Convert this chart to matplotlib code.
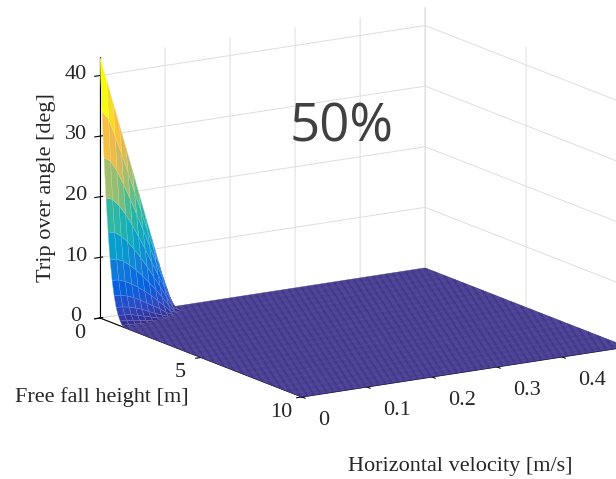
import numpy as np
import matplotlib
matplotlib.use("Agg")
import matplotlib.pyplot as plt
from matplotlib.colors import LinearSegmentedColormap
from mpl_toolkits.mplot3d import proj3d

# Griglia dei dati
height = np.round(np.arange(0, 10.01, 0.1), 2)        # Free fall height [m]
velocity = np.round(np.arange(0, 0.501, 0.01), 3)     # Horizontal velocity [m/s]

# Angolo di ribaltamento (angolo h=0..1.2, v=0..0.11); altrove 0
peak_height = height[:13]
peak_velocity = velocity[:12]
peak_angle = np.array([
    [43.0, 39.1, 35.2, 31.3, 27.4, 23.5, 19.5, 15.6, 11.7, 7.8, 3.9, 0.0],
    [34.2, 32.8, 29.9, 26.8, 23.5, 20.1, 16.8, 13.4, 10.0, 6.6, 3.3, 0.0],
    [26.7, 26.0, 24.2, 21.8, 19.3, 16.6, 13.8, 11.0, 8.1, 5.3, 2.4, 0.0],
    [20.2, 19.8, 18.6, 17.0, 15.1, 13.0, 10.8, 8.5, 6.2, 3.9, 1.5, 0.0],
    [14.7, 14.5, 13.7, 12.6, 11.2, 9.7, 8.0, 6.2, 4.4, 2.5, 0.6, 0.0],
    [10.3, 10.2, 9.7, 8.9, 7.9, 6.8, 5.5, 4.2, 2.8, 1.3, 0.0, 0.0],
    [7.0, 6.9, 6.5, 5.9, 5.2, 4.4, 3.5, 2.5, 1.5, 0.4, 0.0, 0.0],
    [4.6, 4.5, 4.2, 3.8, 3.2, 2.6, 1.9, 1.3, 0.5, 0.0, 0.0, 0.0],
    [2.8, 2.7, 2.5, 2.2, 1.8, 1.3, 0.8, 0.4, 0.0, 0.0, 0.0, 0.0],
    [1.6, 1.5, 1.4, 1.1, 0.8, 0.5, 0.2, 0.0, 0.0, 0.0, 0.0, 0.0],
    [0.8, 0.7, 0.6, 0.4, 0.2, 0.0, 0.0, 0.0, 0.0, 0.0, 0.0, 0.0],
    [0.2, 0.2, 0.1, 0.0, 0.0, 0.0, 0.0, 0.0, 0.0, 0.0, 0.0, 0.0],
    [0.0, 0.0, 0.0, 0.0, 0.0, 0.0, 0.0, 0.0, 0.0, 0.0, 0.0, 0.0],
])

z_ticks = [0, 10, 20, 30, 40]
height_ticks = [0, 5, 10]
velocity_ticks = [0, 0.1, 0.2, 0.3, 0.4, 0.5]
velocity_tick_labels = ['0', '0.1', '0.2', '0.3', '0.4', '0.5']

# Mappa di colori tipo parula
parula = LinearSegmentedColormap.from_list('parula', [
    (0.2081, 0.1663, 0.5292), (0.1707, 0.2919, 0.7792), (0.0117, 0.3875, 0.8820),
    (0.0723, 0.4887, 0.8467), (0.0265, 0.6137, 0.8135), (0.0843, 0.6928, 0.7062),
    (0.2586, 0.7317, 0.5954), (0.5300, 0.7491, 0.4661), (0.7525, 0.7384, 0.3768),
    (0.9139, 0.7258, 0.3063), (0.9990, 0.7653, 0.2164), (0.9626, 0.8705, 0.1309),
    (0.9763, 0.9831, 0.0538)])

W, H = 616, 479
fig = plt.figure(figsize=(W / 100, H / 100), dpi=100)
ax = fig.add_subplot(111, projection='3d', proj_type='ortho')
ax.set_box_aspect((380, 384, 269))
ax.view_init(elev=14.2, azim=-32.1)

V, Hh = np.meshgrid(velocity, height)
Z = np.zeros_like(V)
Z[:len(peak_height), :len(peak_velocity)] = peak_angle
zmax = Z.max()

fc = parula(Z / zmax)
surf = ax.plot_surface(Hh, V, Z, facecolors=fc, shade=False, rstride=1, cstride=1,
                       linewidth=0.3, antialiased=True)
# bordi piu' chiari delle facce (piu' visibili sul picco che sul piano)
zf = Z[:-1, :-1].ravel()
face = parula(zf / zmax)
mix = np.where(zf > 0, 0.3, 0.12)[:, None]
edge = face.copy()
edge[:, :3] = face[:, :3] * (1 - mix) + mix
surf.set_edgecolors(edge)

ax.set_xlim(0, 10)
ax.set_ylim(0, 0.5)
ax.set_zlim(0, zmax)
ax.set_xticks(height_ticks)
ax.set_yticks(velocity_ticks)
ax.set_yticklabels(velocity_tick_labels)
ax.set_zticks(z_ticks)
ax.zaxis.set_ticks_position('lower')

# (asse, pad, allineamento verticale delle etichette)
for axis, pad, va in ((ax.xaxis, 6, 'baseline'),
                      (ax.yaxis, 10, 'baseline'),
                      (ax.zaxis, 2, 'center')):
    axis.set_pane_color((1, 1, 1, 0))
    axis.pane.set_edgecolor((1, 1, 1, 0))
    axis._axinfo['grid'].update(color=(0.87, 0.87, 0.87), linewidth=0.7)
    axis.line.set_color('black')
    axis.line.set_linewidth(0.8)
    axis.set_tick_params(pad=pad)
    for lbl in axis.get_ticklabels():
        lbl.set_fontfamily('Liberation Serif')
        lbl.set_fontsize(16)
        lbl.set_color('#262626')
        lbl.set_va(va)
for lbl in ax.yaxis.get_ticklabels():
    lbl.set_ha('left')

# posiziona gli assi perché gli angoli del box cadano come nel riferimento
fig.canvas.draw()
M = ax.get_proj()
px, py, _ = proj3d.proj_transform(np.array([0, 10.0]), np.array([0, 0.5]), np.array([0, zmax]), M)
frac = ax.transAxes.inverted().transform(ax.transData.transform(np.column_stack([px, py])))
size = (627 - 100) / (frac[1, 0] - frac[0, 0])
x0 = 100 - size * frac[0, 0]
y0 = (H - 318) - size * frac[0, 1]
ax.set_position([x0 / W, y0 / H, size / W, size / H])

serif = dict(family='Liberation Serif', fontsize=16, color='#262626')
fig.text(47 / W, 1 - 188 / H, 'Trip over angle [deg]', rotation=90, ha='center', va='center', **serif)
fig.text(15 / W, 1 - 397 / H, 'Free fall height [m]', ha='left', va='center', **serif)
fig.text(348 / W, 1 - 467 / H, 'Horizontal velocity [m/s]', ha='left', va='center', **serif)
fig.text(342 / W, 1 - 128 / H, '50%', family='Open Sans', fontsize=38, color='#404040',
         ha='center', va='center')

fig.savefig('out.png', dpi=100)
